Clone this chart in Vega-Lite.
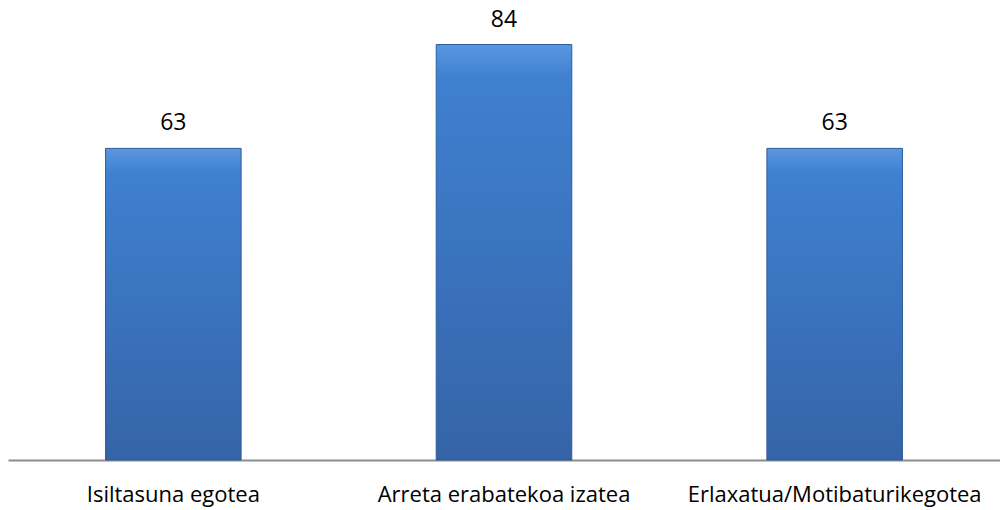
{
  "$schema": "https://vega.github.io/schema/vega-lite/v6.json",
  "width": 992,
  "height": 460,
  "autosize": {"type": "none"},
  "padding": {"left": 8, "top": 0, "right": 0, "bottom": 50},
  "background": "white",
  "config": {"view": {"stroke": null}},
  "data": {"values": [
    {"category": "Isiltasuna egotea", "value": 63},
    {"category": "Arreta erabatekoa izatea", "value": 84},
    {"category": "Erlaxatua/Motibaturikegotea", "value": 63}
  ]},
  "encoding": {
    "x": {"field": "category", "type": "nominal", "sort": null,
      "scale": {"paddingInner": 0.59, "paddingOuter": 0.295},
      "axis": {"title": null, "labelAngle": 0, "ticks": false, "labelPadding": 41, "labelLimit": 0,
        "labelFont": "Open Sans", "labelFontSize": 22, "labelColor": "#000000",
        "labelBaseline": "alphabetic",
        "domainColor": "#8c8c8c", "domainWidth": 2}},
    "y": {"field": "value", "type": "quantitative",
      "scale": {"domain": [0, 93], "nice": false},
      "axis": null}
  },
  "layer": [
    {"mark": {"type": "bar",
      "color": {"gradient": "linear", "x1": 0, "y1": 0, "x2": 0, "y2": 1,
        "stops": [{"offset": 0, "color": "#5a97e0"}, {"offset": 0.08, "color": "#3f80d0"}, {"offset": 1, "color": "#3564a8"}]},
      "stroke": "#2f5c9c", "strokeWidth": 1}},
    {"mark": {"type": "text", "baseline": "alphabetic", "dy": -18, "font": "Open Sans", "fontSize": 23, "color": "#000000"},
      "encoding": {"text": {"field": "value", "type": "quantitative"}}}
  ]
}
